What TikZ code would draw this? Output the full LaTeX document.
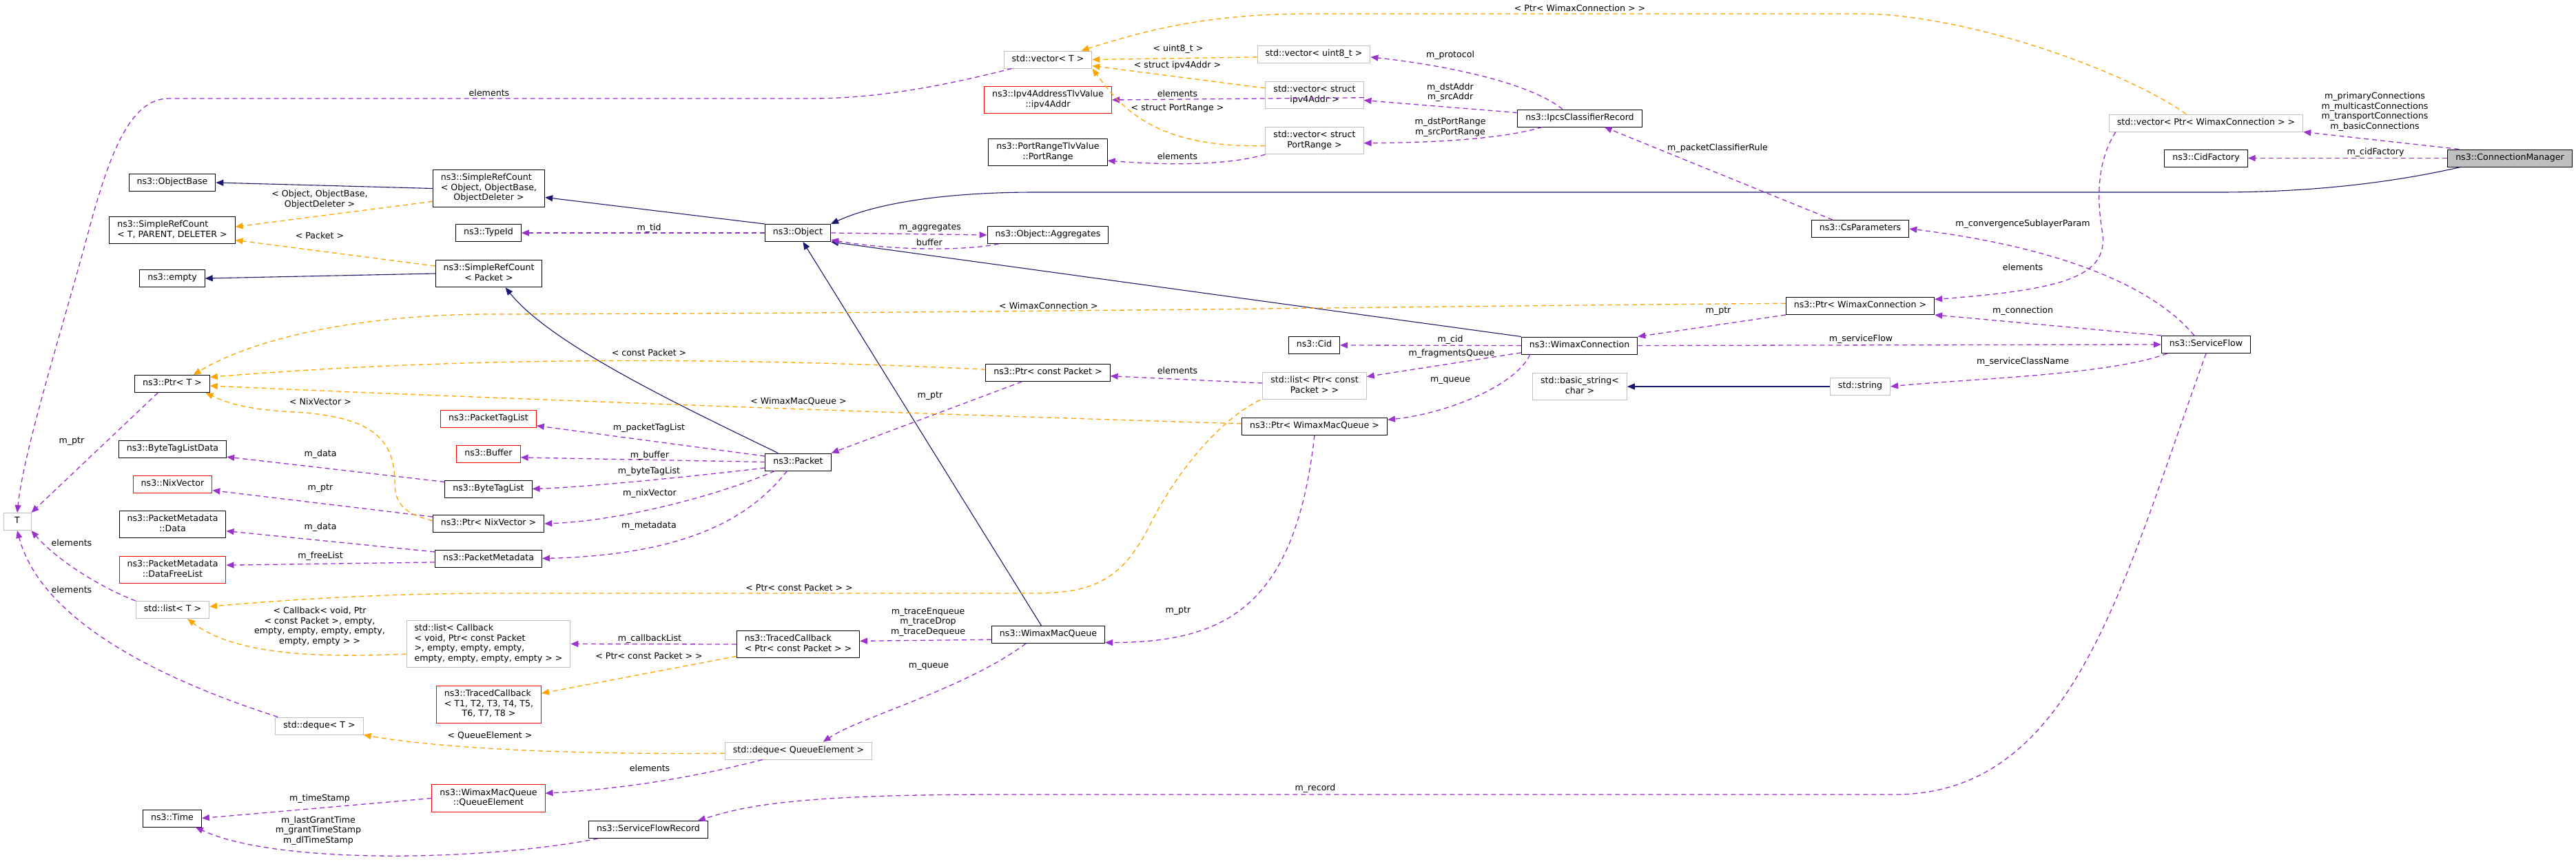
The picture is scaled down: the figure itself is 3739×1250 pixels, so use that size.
\documentclass[tikz,border=0pt]{standalone}
\usepackage{fontspec}
\setmainfont{DejaVu Sans}
\usetikzlibrary{arrows.meta}
\definecolor{edgeblue}{HTML}{191970}
\definecolor{edgepurple}{HTML}{9A32CD}
\definecolor{edgeorange}{HTML}{FFA500}
\definecolor{boxgray}{HTML}{BFBFBF}
\newcommand{\tpl}[2]{\begin{tabular}{@{}l@{}}#1\\\multicolumn{1}{@{}c@{}}{#2}\end{tabular}}

\begin{document}
\begin{tikzpicture}[x=1pt, y=-1pt,
  cls/.style={draw=black, fill=white, line width=1pt, inner xsep=11.5pt, inner ysep=5.25pt,
    font=\fontsize{12.6}{14.5}\selectfont, execute at begin node=\strut},
  ext/.style={cls, draw=boxgray},
  undoc/.style={cls, draw=red},
  focus/.style={cls, fill=boxgray},
  lbl/.style={font=\fontsize{12.6}{14.5}\selectfont, inner sep=0pt, align=center},
  inh/.style={draw=edgeblue, line width=1.1pt, -{Triangle[length=11pt,width=9pt]}},
  use/.style={draw=edgepurple, line width=1.3pt, dash pattern=on 7pt off 5pt, -{Triangle[length=11pt,width=9pt]}},
  tmpl/.style={use, draw=edgeorange}]
  \useasboundingbox (0,0) rectangle (3739,1250);
  \fill[white] (0,0) rectangle (3739,1250);

  \node[focus] (cm) at (3643,229.5) {ns3::ConnectionManager};
  \node[cls] (cidfac) at (3202,229.5) {ns3::CidFactory};
  \node[ext] (vecptrwc) at (3202,178.5) {std::vector< Ptr< WimaxConnection > >};
  \node[cls] (obj) at (1158,338) {ns3::Object};
  \node[cls] (srcobj) at (709.5,273.5) {\tpl{ns3::SimpleRefCount\\< Object, ObjectBase,}{ ObjectDeleter >}};
  \node[cls] (objbase) at (250,265) {ns3::ObjectBase};
  \node[cls] (srctpd) at (250,334) {\tpl{ns3::SimpleRefCount}{< T, PARENT, DELETER >}};
  \node[cls] (empty) at (250,404) {ns3::empty};
  \node[cls] (typeid) at (709,338) {ns3::TypeId};
  \node[cls] (srcpkt) at (709.5,397) {\tpl{ns3::SimpleRefCount}{< Packet >}};
  \node[cls] (aggr) at (1521,341) {ns3::Object::Aggregates};
  \node[ext] (vect) at (1521,86.5) {std::vector< T >};
  \node[ext] (vecu8) at (1907,78.5) {std::vector< uint8\_t >};
  \node[undoc] (ipv4) at (1521,145) {\tpl{ns3::Ipv4AddressTlvValue}{::ipv4Addr}};
  \node[ext] (vecip) at (1908,138) {\tpl{std::vector< struct}{ipv4Addr >}};
  \node[cls] (portrange) at (1521,221) {\tpl{ns3::PortRangeTlvValue}{::PortRange}};
  \node[ext] (vecpr) at (1908,204) {\tpl{std::vector< struct}{PortRange >}};
  \node[cls] (ipcs) at (2293,171.5) {ns3::IpcsClassifierRecord};
  \node[cls] (csparam) at (2700,332) {ns3::CsParameters};
  \node[cls] (ptrwc) at (2700,444) {ns3::Ptr< WimaxConnection >};
  \node[cls] (wc) at (2292.5,501.5) {ns3::WimaxConnection};
  \node[cls] (sf) at (3202,500) {ns3::ServiceFlow};
  \node[ext] (bstr) at (2293,561) {\tpl{std::basic\_string<}{char >}};
  \node[ext] (str) at (2700,561) {std::string};
  \node[cls] (cid) at (1907.5,501) {ns3::Cid};
  \node[cls] (ptrcp) at (1521,541) {ns3::Ptr< const Packet >};
  \node[ext] (listpcp) at (1908,560) {\tpl{std::list< Ptr< const}{Packet > >}};
  \node[cls] (ptrwmq) at (1908,618.5) {ns3::Ptr< WimaxMacQueue >};
  \node[cls] (wmq) at (1521.5,921) {ns3::WimaxMacQueue};
  \node[ext] (listcb) at (709,934.5) {\tpl{std::list< Callback\\< void, Ptr< const Packet\\>, empty, empty, empty,}{empty, empty, empty, empty > >}};
  \node[cls] (tcptr) at (1158.5,935) {\tpl{ns3::TracedCallback}{< Ptr< const Packet > >}};
  \node[undoc] (tct) at (709.5,1022.5) {\tpl{ns3::TracedCallback\\< T1, T2, T3, T4, T5,}{T6, T7, T8 >}};
  \node[ext] (dequeqe) at (1159,1089.5) {std::deque< QueueElement >};
  \node[undoc] (qe) at (709,1158.5) {\tpl{ns3::WimaxMacQueue}{::QueueElement}};
  \node[cls] (sfr) at (941,1204) {ns3::ServiceFlowRecord};
  \node[cls] (ptrt) at (250,557) {ns3::Ptr< T >};
  \node[cls] (btld) at (250.5,652) {ns3::ByteTagListData};
  \node[undoc] (nix) at (250.5,702.5) {ns3::NixVector};
  \node[cls] (pmdata) at (250.5,761) {\tpl{ns3::PacketMetadata}{::Data}};
  \node[undoc] (dfl) at (250.5,827) {\tpl{ns3::PacketMetadata}{::DataFreeList}};
  \node[ext, minimum width=40pt] (tparam) at (25,757) {T};
  \node[ext] (listt) at (250.5,885) {std::list< T >};
  \node[ext] (dequet) at (463.5,1053.5) {std::deque< T >};
  \node[cls] (time) at (250,1187.5) {ns3::Time};
  \node[undoc] (ptl) at (709,608) {ns3::PacketTagList};
  \node[undoc] (buf) at (709,659) {ns3::Buffer};
  \node[cls] (btl) at (709,709.5) {ns3::ByteTagList};
  \node[cls] (ptrnix) at (709,760) {ns3::Ptr< NixVector >};
  \node[cls] (pmeta) at (709,810.5) {ns3::PacketMetadata};
  \node[cls] (pkt) at (1158.5,670.5) {ns3::Packet};

  \draw[inh] ([xshift=19pt]cm.south west) .. controls (3460,268) and (3340,279) .. (3221,279) -- (1503,279) .. controls (1350,279) and (1260,300) .. (obj.north east);
  \draw[inh] (obj.north west) -- (srcobj.-9);
  \draw[inh] (srcobj.west) -- (objbase.east);
  \draw[inh] (srcpkt.west) -- (empty.east);
  \draw[inh] (pkt.156) .. controls (990,590) and (800,500) .. (srcpkt.-40);
  \draw[inh] ([xshift=-10pt]wmq.north) -- (obj.-60);
  \draw[inh] (wc.north west) -- (obj.south east);
  \draw[inh] (str.west) -- (bstr.east);

  \draw[use] (cm.170) -- (vecptrwc.south east);
  \draw[use] (cm.west) -- (cidfac.east);
  \draw[use] ([xshift=10pt]vecptrwc.south west) .. controls (3040,240) and (3045,300) .. (3052,340) .. controls (3058,400) and (3000,420) .. (ptrwc.5);
  \draw[use] (sf.north west) -- (ptrwc.south east);
  \draw[use] (ptrwc.south west) -- (wc.north east);
  \draw[use] (wc.east) -- (sf.west);
  \draw[use] (sf.-167) .. controls (3060,545) and (2850,550) .. (str.east);
  \draw[use] (sf.143) .. controls (3130,420) and (3000,360) .. (csparam.east);
  \draw[use] (sf.south) .. controls (3080,850) and (3010,1153) .. (2750,1153) -- (1450,1153) .. controls (1150,1153) and (1080,1170) .. ([xshift=-15pt]sfr.north east);
  \draw[use] (csparam.162) -- (ipcs.-20);
  \draw[use] ([xshift=-25pt]ipcs.north) .. controls (2220,120) and (2100,95) .. (vecu8.-3);
  \draw[use] (ipcs.175) -- (vecip.-6);
  \draw[use] ([xshift=36pt]ipcs.south west) .. controls (2180,202) and (2080,207) .. (vecpr.-3);
  \draw[use] (vecip.-3) -- (ipv4.east);
  \draw[use] (vecpr.south west) .. controls (1780,240) and (1700,240) .. (portrange.-8);
  \draw[use] ([xshift=12pt]vect.south west) .. controls (1380,122) and (1280,143) .. (1177,143) -- (245,143) .. controls (190,143) and (160,220) .. (130,330) .. controls (90,480) and (35,650) .. (tparam.north);
  \draw[use] ([xshift=34pt]ptrt.south west) -- (tparam.north east);
  \draw[use] (obj.west) -- (typeid.east);
  \draw[use] (obj.east) -- (aggr.west);
  \draw[use] ([xshift=17pt]aggr.south west) .. controls (1400,364) and (1300,364) .. (obj.-12);
  \draw[use] (pkt.170) -- (ptl.-8);
  \draw[use] (pkt.west) -- (buf.-6);
  \draw[use] (pkt.-170) .. controls (1000,692) and (850,707) .. (btl.east);
  \draw[use] (pkt.-159) .. controls (1040,720) and (900,756) .. (ptrnix.east);
  \draw[use] (pkt.-141) .. controls (1090,750) and (1000,805) .. (pmeta.east);
  \draw[use] (ptrcp.-161) -- (pkt.north east);
  \draw[use] (btl.171) -- (btld.-8);
  \draw[use] (ptrnix.173) -- (nix.-9);
  \draw[use] (pmeta.173) -- (pmdata.-7);
  \draw[use] (pmeta.-176) -- (dfl.5);
  \draw[use] (listt.north west) .. controls (140,850) and (80,810) .. (tparam.south east);
  \draw[use] ([xshift=4pt]dequet.north west) .. controls (230,985) and (60,900) .. (tparam.south);
  \draw[use] (qe.west) -- (time.east);
  \draw[use] ([xshift=14pt]sfr.south west) .. controls (700,1250) and (400,1255) .. (time.-21);
  \draw[use] (wc.west) -- (cid.east);
  \draw[use] (wc.-173) -- (listpcp.10);
  \draw[use] ([xshift=13pt]wc.south west) .. controls (2200,560) and (2100,600) .. (ptrwmq.5);
  \draw[use] (listpcp.177) -- (ptrcp.-3);
  \draw[use] (ptrwmq.south) .. controls (1880,880) and (1780,932) .. (wmq.-8);
  \draw[use] (wmq.-175) -- (tcptr.3);
  \draw[use] ([xshift=50pt]wmq.south west) .. controls (1400,1000) and (1250,1040) .. (dequeqe.20);
  \draw[use] (dequeqe.-166) .. controls (1000,1130) and (900,1145) .. (qe.5);
  \draw[use] (tcptr.west) -- (listcb.east);

  \draw[tmpl] (srcobj.-167) -- (srctpd.3);
  \draw[tmpl] (srcpkt.172) -- (srctpd.-9);
  \draw[tmpl] (ptrwc.178) .. controls (2000,445) and (1400,455) .. (700,456) .. controls (520,458) and (370,490) .. (ptrt.23);
  \draw[tmpl] (ptrcp.177) .. controls (1100,520) and (700,515) .. (ptrt.10);
  \draw[tmpl] (ptrwmq.178) .. controls (1400,603) and (700,578) .. (ptrt.-3);
  \draw[tmpl] (ptrnix.177) .. controls (585,745) and (573,730) .. (573,700) .. controls (573,630) and (530,605) .. (430,598) .. controls (360,595) and (330,585) .. (ptrt.-15);
  \draw[tmpl] ([xshift=-3pt]listpcp.south west) .. controls (1760,615) and (1700,700) .. (1670,760) .. controls (1630,840) and (1590,861) .. (1500,861) -- (700,861) .. controls (550,862) and (420,870) .. (listt.5);
  \draw[tmpl] (listcb.-173) .. controls (460,955) and (340,950) .. (listt.-31);
  \draw[tmpl] (tcptr.-169) -- (tct.12);
  \draw[tmpl] (dequeqe.-178) .. controls (850,1095) and (650,1088) .. (dequet.south east);
  \draw[tmpl] (vecu8.-177) -- (vect.east);
  \draw[tmpl] (vecip.172) -- (vect.-8);
  \draw[tmpl] (vecpr.-174) .. controls (1680,215) and (1630,160) .. (vect.south east);
  \draw[tmpl] ([xshift=-29pt]vecptrwc.north) .. controls (3080,100) and (2850,20) .. (2700,20) -- (1900,20) .. controls (1750,20) and (1660,45) .. (vect.15);

  \foreach \lx/\ly/\lt [count=\i] in {710/135/elements, 464/342/< Packet >, 942/331/m\_tid,
      1350/331/m\_aggregates, 1349/352/buffer, 1710/71/< uint8\_t >, 1709/95/< struct ipv4Addr >,
      1709/136/elements, 1709/157/< struct PortRange >, 1709/227/elements, 2105/80/m\_protocol,
      2293/12/< Ptr< WimaxConnection > >, 2493/215/m\_packetClassifierRule, 3448/221/m\_cidFactory,
      2936/325/m\_convergenceSublayerParam, 2936/388/elements, 2494/452/m\_ptr, 2936/451/m\_connection,
      2701/492/m\_serviceFlow, 2936/525/m\_serviceClassName, 1522/444/< WimaxConnection >,
      2105/493/m\_cid, 2107/513/m\_fragmentsQueue, 2105/552/m\_queue, 1709/538/elements,
      942/512/< const Packet >, 1159/583/< WimaxMacQueue >, 1350/575/m\_ptr, 942/621/m\_packetTagList,
      943/661/m\_buffer, 942/684/m\_byteTagList, 943/716/m\_nixVector, 942/763/m\_metadata,
      465/583/< NixVector >, 104/641/m\_ptr, 465/659/m\_data, 465/709/m\_ptr, 465/765/m\_data,
      465/807/m\_freeList, 104/788/elements, 104/856/elements, 1160/853/< Ptr< const Packet > >,
      1710/887/m\_ptr, 943/927/m\_callbackList, 942/952/< Ptr< const Packet > >, 1348/967/m\_queue,
      711/1068/< QueueElement >, 943/1115/elements, 464/1159/m\_timeStamp, 1909/1144/m\_record}
    \node[lbl] (lab\i) at (\lx,\ly) {\lt};
  \node[lbl] (labsrc) at (464,289.5) {< Object, ObjectBase,\\ObjectDeleter >};
  \node[lbl] (labaddr) at (2105,134) {m\_dstAddr\\m\_srcAddr};
  \node[lbl] (labport) at (2105,184.5) {m\_dstPortRange\\m\_srcPortRange};
  \node[lbl] (labconn) at (3447,162) {m\_primaryConnections\\m\_multicastConnections\\m\_transportConnections\\m\_basicConnections};
  \node[lbl] (labcb) at (464,909) {< Callback< void, Ptr\\< const Packet >, empty,\\empty, empty, empty, empty,\\empty, empty > >};
  \node[lbl] (labtrace) at (1347,902.5) {m\_traceEnqueue\\m\_traceDrop\\m\_traceDequeue};
  \node[lbl] (labtime) at (462,1205.5) {m\_lastGrantTime\\m\_grantTimeStamp\\m\_dlTimeStamp};
\end{tikzpicture}
\end{document}
